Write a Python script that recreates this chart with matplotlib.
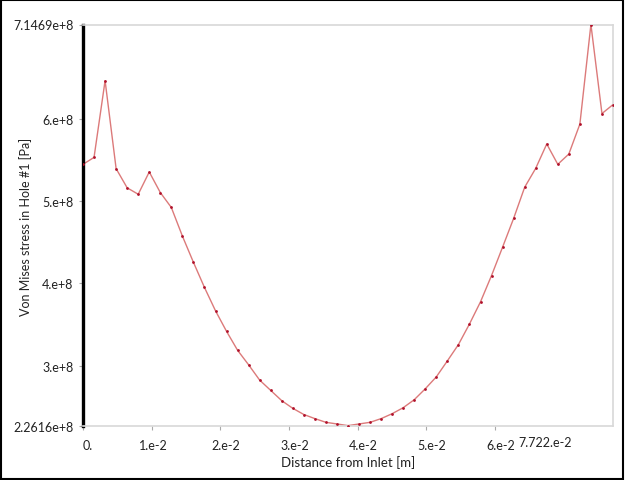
import numpy as np
import matplotlib
matplotlib.use("Agg")
import matplotlib.pyplot as plt
import matplotlib.transforms as mtransforms
from matplotlib.patches import Rectangle

# Data (stress in units of 1e8 Pa)
x_max = 7.722e-2
n_points = 49
distance = np.linspace(0.0, x_max, n_points)
stress_e8 = [5.447, 5.531, 6.464, 5.394, 5.161, 5.083, 5.354, 5.104, 4.922, 4.575,
             4.256, 3.950, 3.666, 3.416, 3.186, 3.009, 2.823, 2.698, 2.573, 2.480,
             2.405, 2.355, 2.310, 2.290, 2.270, 2.290, 2.310, 2.355, 2.415, 2.488,
             2.585, 2.718, 2.863, 3.057, 3.255, 3.505, 3.775, 4.095, 4.440, 4.789,
             5.168, 5.398, 5.694, 5.447, 5.572, 5.936, 7.1469, 6.064, 6.173]
stress = np.array(stress_e8) * 1e8

y_min, y_max = 2.2616e8, 7.1469e8
y_ticks = [2.2616e8, 3e8, 4e8, 5e8, 6e8, 7.1469e8]
y_tick_labels = ["2.2616e+8", "3.e+8", "4.e+8", "5.e+8", "6.e+8", "7.1469e+8"]
x_ticks = [0.0, 1e-2, 2e-2, 3e-2, 4e-2, 5e-2, 6e-2]
x_tick_labels = ["0.", "1.e-2", "2.e-2", "3.e-2", "4.e-2", "5.e-2", "6.e-2"]
x_max_label = "7.722.e-2"

plt.rcParams['font.family'] = ['Lato', 'DejaVu Sans']

fig = plt.figure(figsize=(6.25, 4.81), dpi=100)
ax = fig.add_axes([83/625, 1 - 427.3/481, (613 - 83)/625, (427.3 - 25.5)/481])

ax.plot(distance, stress, color="#dc7a7a", lw=1.0, zorder=2)
ax.plot(distance, stress, ls="none", marker="o", ms=2.0, mew=0, color="#b0102a", zorder=3)

ax.set_xlim(0, x_max)
ax.set_ylim(y_min, y_max)
ax.set_yticks(y_ticks)
ax.set_yticklabels(y_tick_labels)
ax.set_xticks(x_ticks)
ax.set_xticklabels(x_tick_labels)

ax.tick_params(axis="both", labelsize=9, colors="#222222", length=3, width=0.8)
ax.tick_params(axis="both", color="#aaaaaa")
ax.tick_params(axis="x", pad=6)
ax.tick_params(axis="y", pad=4)
xl = ax.get_xticklabels()
xl[0].set_horizontalalignment("left")
for i, lab in enumerate(xl):
    if i >= 1:
        dx = 2 if i == 1 else 6
        lab.set_transform(lab.get_transform() +
                          mtransforms.ScaledTranslation(dx / 100, 0, fig.dpi_scale_trans))

for side in ["top", "right", "bottom"]:
    ax.spines[side].set_color("#d8d8d8")
    ax.spines[side].set_linewidth(1.2)
ax.spines["left"].set_color("black")
ax.spines["left"].set_linewidth(2.4)

ax.text(6.34e-2, -0.0235, x_max_label, transform=ax.get_xaxis_transform(),
        ha="left", va="top", fontsize=9, color="#222222")

ax.set_xlabel("Distance from Inlet [m]", fontsize=9.5, color="#222222")
ax.xaxis.set_label_coords((348 - 83) / 530, -(456 - 427.3) / 401.8)
ax.set_ylabel("Von Mises stress in Hole #1 [Pa]", fontsize=9, color="#222222")
ax.yaxis.set_label_coords((32 - 83) / 530, (427.3 - 227) / 401.8)

fig.patches.append(Rectangle((0.002, 0.003), 0.994, 0.994, transform=fig.transFigure,
                             fill=False, edgecolor="black", lw=1.5))

fig.savefig("out.png", dpi=100)
